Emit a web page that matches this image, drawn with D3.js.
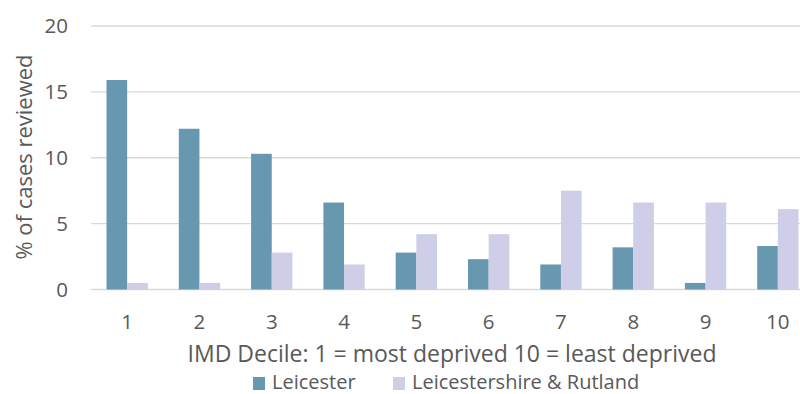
<!DOCTYPE html>
<html>
<head>
<meta charset="utf-8">
<script src="https://cdn.jsdelivr.net/npm/d3@7"></script>
<style>
  html, body { margin: 0; padding: 0; background: #fff; overflow: hidden; }
  text { font-family: "Open Sans", "Noto Sans", sans-serif; fill: #595959; }
</style>
</head>
<body>
<svg id="chart" width="800" height="394"></svg>
<script>
// IMD deciles and the share of reviewed cases in each area
const deciles = ["1", "2", "3", "4", "5", "6", "7", "8", "9", "10"];
const seriesNames = ["Leicester", "Leicestershire & Rutland"];
const leicester = [15.9, 12.2, 10.3, 6.6, 2.8, 2.3, 1.9, 3.2, 0.5, 3.3];
const leicsRutland = [0.5, 0.5, 2.8, 1.9, 4.2, 4.2, 7.5, 6.6, 6.6, 6.1];
const yTicks = [0, 5, 10, 15, 20];
const colors = ["#6897b0", "#cecee8"];

const svg = d3.select("#chart");
const plotLeft = 91, plotRight = 814, plotTop = 26, plotBottom = 289.5;

// gap between groups is 1.5x a single bar width
const x = d3.scaleBand().domain(deciles).range([plotLeft, plotRight])
  .paddingInner(1.5 / 3.5).paddingOuter(0.75 / 3.5);
const xInner = d3.scaleBand().domain(seriesNames).range([0, x.bandwidth()]);
const y = d3.scaleLinear().domain([0, 20]).range([plotBottom, plotTop]);

// horizontal gridlines
svg.append("g").selectAll("line").data(yTicks).join("line")
  .attr("x1", plotLeft).attr("x2", plotRight)
  .attr("y1", d => y(d)).attr("y2", d => y(d))
  .attr("stroke", "#d9d9d9").attr("stroke-width", 1.3);

// y tick labels
svg.append("g").selectAll("text").data(yTicks).join("text")
  .attr("x", 68).attr("y", d => y(d)).attr("dy", "0.36em")
  .attr("text-anchor", "end").attr("font-size", 20.5)
  .text(d => d);

// bars
const rows = deciles.map((d, i) => ({ decile: d, values: [leicester[i], leicsRutland[i]] }));
const groups = svg.append("g").selectAll("g").data(rows).join("g")
  .attr("transform", d => `translate(${x(d.decile)},0)`);
groups.selectAll("rect").data(d => d.values.map((v, j) => ({ name: seriesNames[j], v, j })))
  .join("rect")
  .attr("x", d => xInner(d.name))
  .attr("width", xInner.bandwidth())
  .attr("y", d => y(d.v))
  .attr("height", d => y(0) - y(d.v))
  .attr("fill", d => colors[d.j]);

// x tick labels
svg.append("g").selectAll("text").data(deciles).join("text")
  .attr("x", d => x(d) + x.bandwidth() / 2).attr("y", 329)
  .attr("text-anchor", "middle").attr("font-size", 20.5)
  .text(d => d);

// axis titles
svg.append("text")
  .attr("x", 452).attr("y", 362)
  .attr("text-anchor", "middle").attr("font-size", 23)
  .text("IMD Decile: 1 = most deprived 10 = least deprived");

svg.append("text")
  .attr("transform", "translate(32,157) rotate(-90)")
  .attr("text-anchor", "middle").attr("font-size", 22)
  .text("% of cases reviewed");

// legend
const legendX = [253, 393];
const legend = svg.append("g").selectAll("g").data(seriesNames).join("g")
  .attr("transform", (d, i) => `translate(${legendX[i]},377)`);
legend.append("rect").attr("width", 12).attr("height", 13).attr("fill", (d, i) => colors[i]);
legend.append("text").attr("x", 19).attr("y", 12)
  .attr("font-size", 20).text(d => d);
</script>
</body>
</html>
